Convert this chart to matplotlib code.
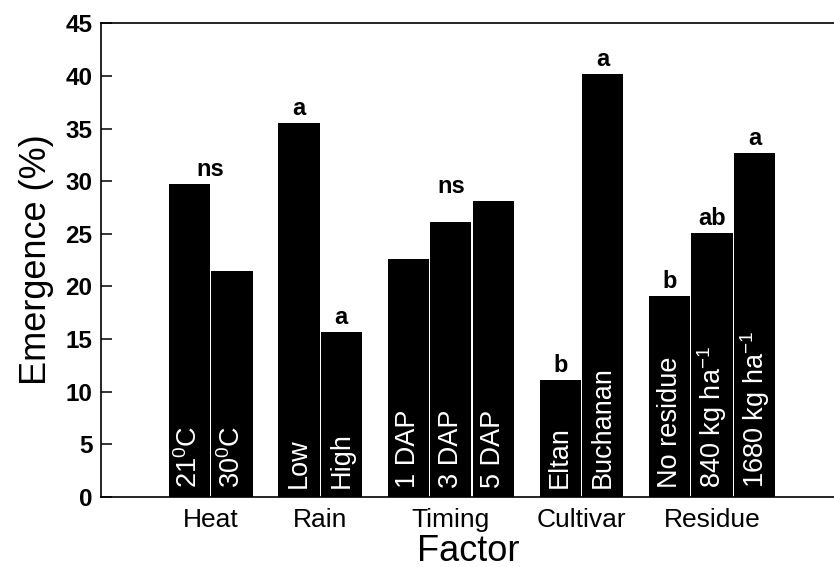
import matplotlib
matplotlib.use('Agg')
import matplotlib.pyplot as plt

plt.rcParams['font.family'] = ['Liberation Sans', 'DejaVu Sans']
plt.rcParams['mathtext.fontset'] = 'custom'
plt.rcParams['mathtext.rm'] = 'Liberation Sans'

# data
factors = ['Heat', 'Rain', 'Timing', 'Cultivar', 'Residue']
levels = [
    ['21$^{\\mathregular{0}}$C', '30$^{\\mathregular{0}}$C'],
    ['Low', 'High'],
    ['1 DAP', '3 DAP', '5 DAP'],
    ['Eltan', 'Buchanan'],
    ['No residue', '840 kg ha$^{\\mathregular{-1}}$', '1680 kg ha$^{\\mathregular{-1}}$'],
]
emergence = [
    [29.7, 21.5],
    [35.5, 15.7],
    [22.6, 26.1, 28.1],
    [11.1, 40.2],
    [19.1, 25.1, 32.7],
]
# letters: one per bar, or a single one for the whole group
letters = [
    ['ns'],
    ['a', 'a'],
    ['ns'],
    ['b', 'a'],
    ['b', 'ab', 'a'],
]

gap = 0.576

fig = plt.figure(figsize=(8.34, 5.67), dpi=100)
ax = fig.add_axes([0.121, 0.1235, 0.879, 0.8355])

start = 0.0
for fac, labs, vals, lets in zip(factors, levels, emergence, letters):
    xs = [start + i for i in range(len(vals))]
    ax.bar(xs, vals, width=0.975, color='black', edgecolor='none')
    for x, lab in zip(xs, labs):
        ax.text(x, 0.9, lab, rotation=90, ha='center', va='bottom',
                color='white', fontsize=19.5)
    center = (xs[0] + xs[-1]) / 2
    if len(lets) == 1:
        ax.text(center, max(vals) + 0.3, lets[0], ha='center', va='bottom',
                fontsize=17, fontweight='bold')
    else:
        for x, v, l in zip(xs, vals, lets):
            ax.text(x, v + 0.3, l, ha='center', va='bottom',
                    fontsize=17, fontweight='bold')
    ax.text(center, -1.0, fac, ha='center', va='top', fontsize=19)
    start = xs[-1] + 1 + gap

ax.set_xlim(-2.08, 15.17)
ax.set_ylim(0, 45)
ax.set_yticks(range(0, 46, 5))
ax.set_xticks([])
ax.tick_params(axis='y', direction='in', length=8, width=1.1, labelsize=17.5, pad=6)
for t in ax.get_yticklabels():
    t.set_fontweight('bold')
ax.spines['right'].set_visible(False)
for s in ['left', 'top', 'bottom']:
    ax.spines[s].set_linewidth(1.2)

ax.set_ylabel('Emergence (%)', fontsize=26, labelpad=8)
fig.text(0.562, 0.028, 'Factor', ha='center', va='center', fontsize=26)

fig.savefig('out.png', dpi=100)
